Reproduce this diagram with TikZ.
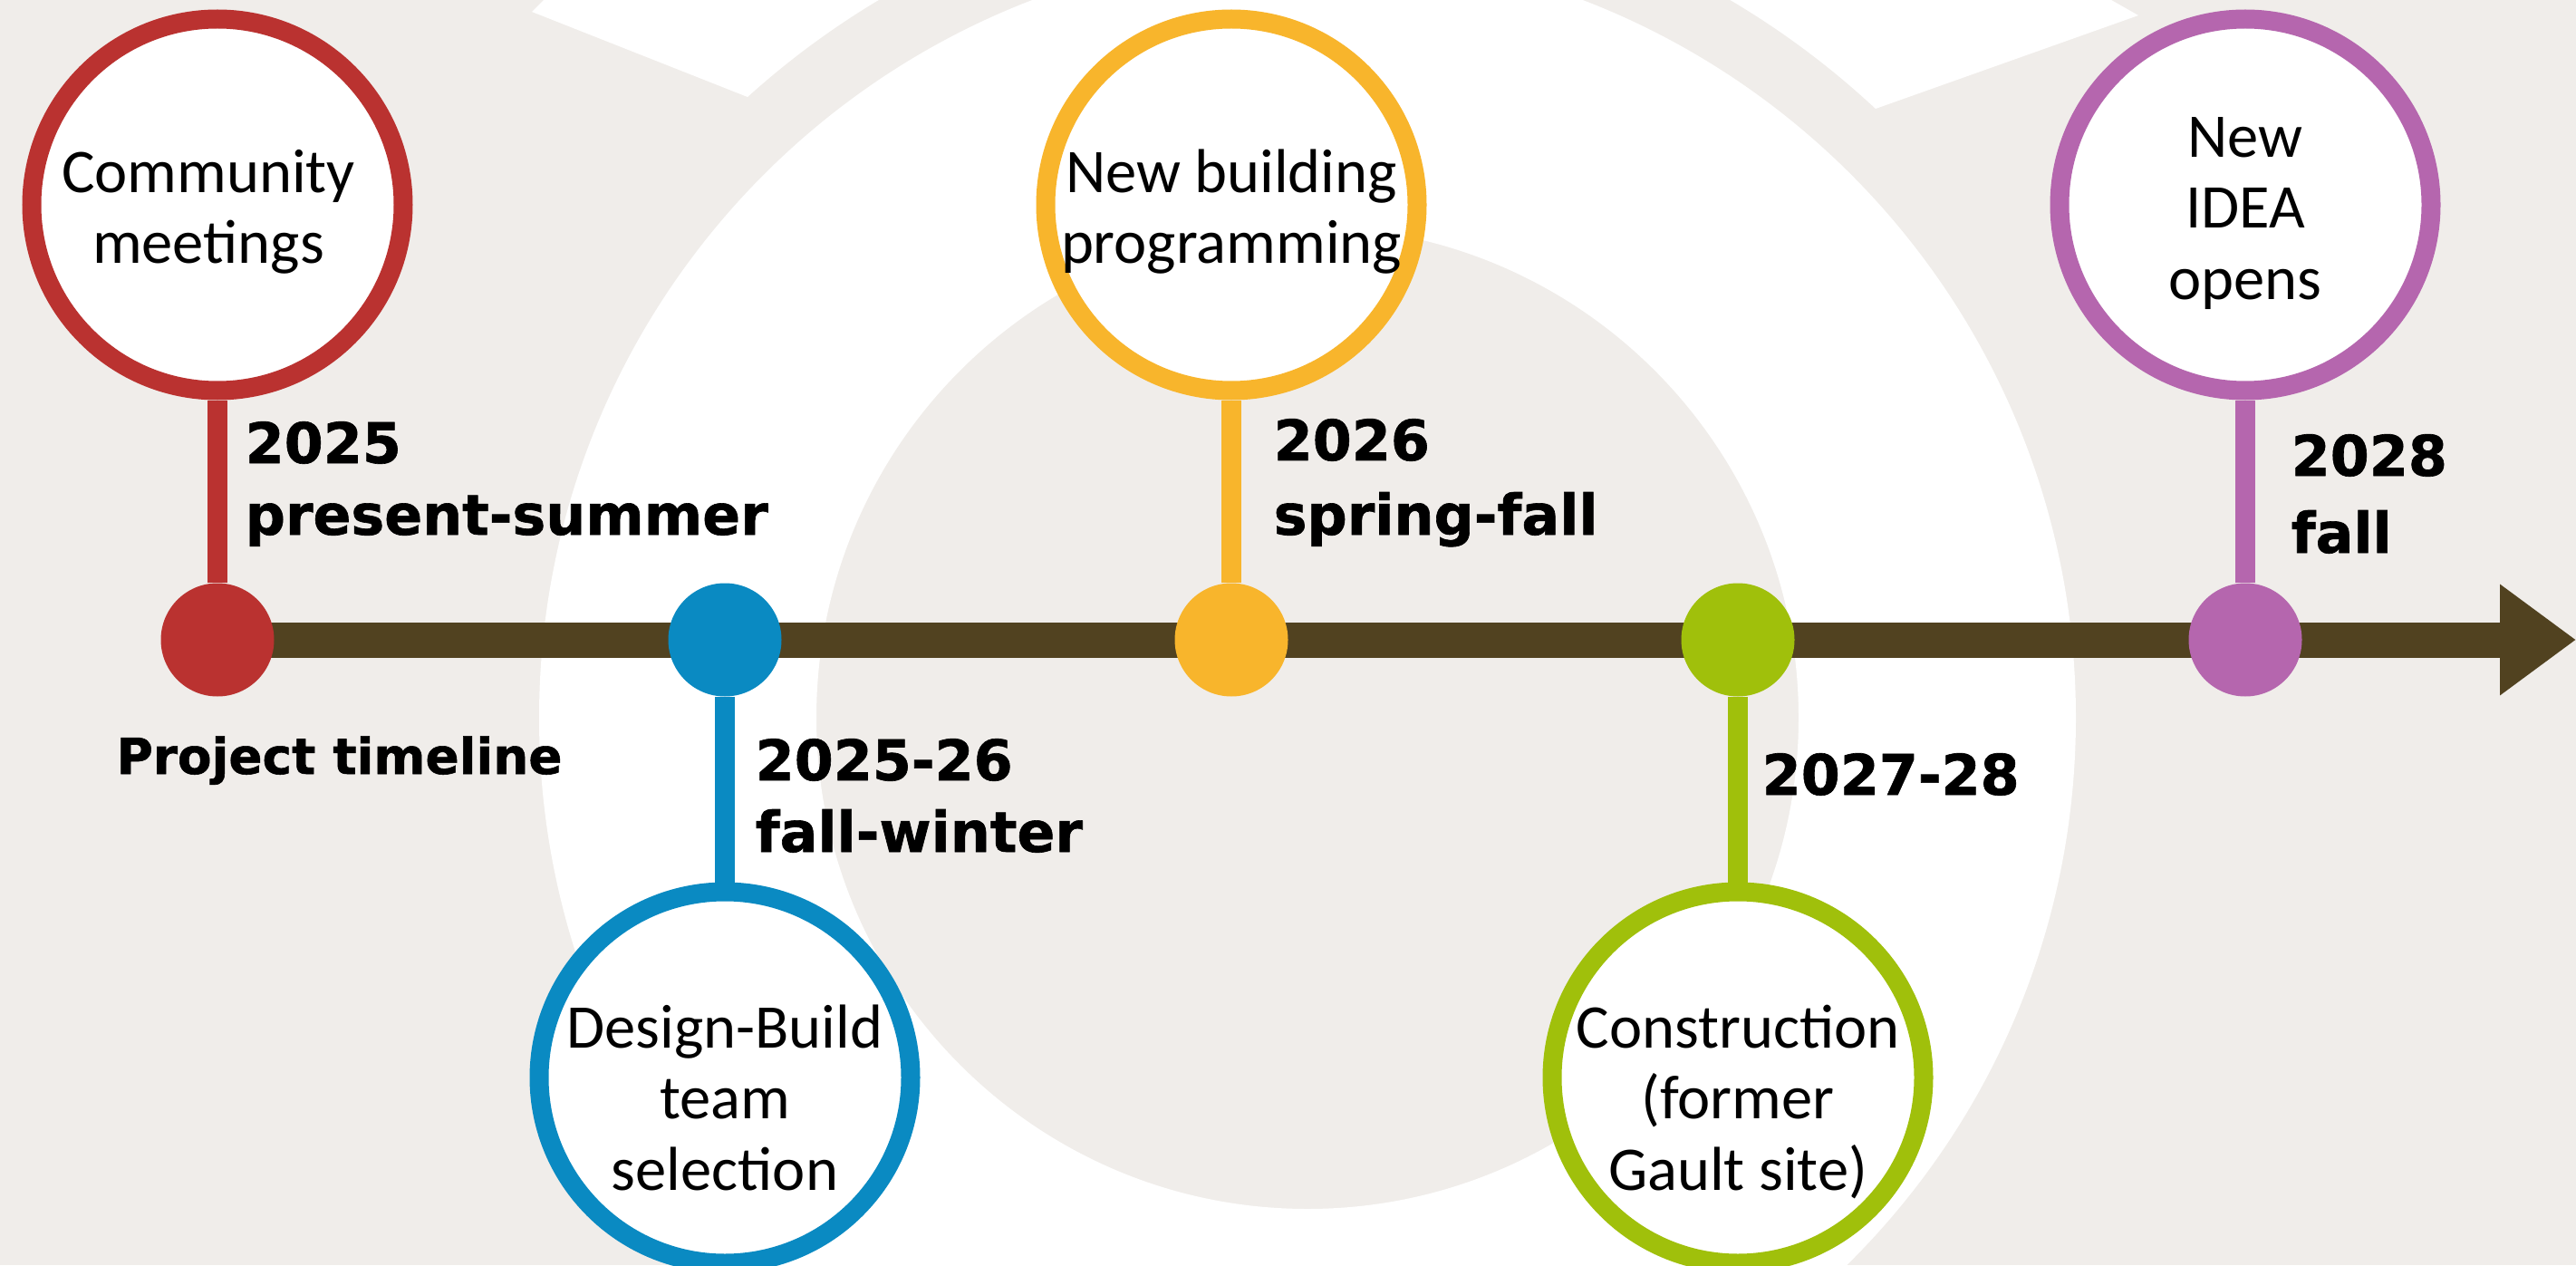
\documentclass[tikz,border=0pt]{standalone}
\usepackage{fontspec}
\usepackage{tikz}
\usetikzlibrary{arrows.meta,backgrounds}
\newfontfamily\ringfont{Carlito}
\newfontfamily\yearfont{DejaVu Sans}[BoldFeatures={FakeBold=1}]
\definecolor{paper}{RGB}{240,237,234}
\definecolor{tlred}{RGB}{186,50,48}
\definecolor{tlblue}{RGB}{10,138,194}
\definecolor{tlyellow}{RGB}{248,181,44}
\definecolor{tlgreen}{RGB}{160,192,11}
\definecolor{tlpurple}{RGB}{181,102,174}
\definecolor{tlbrown}{RGB}{81,66,32}
\newcommand{\ringlines}[2][1mm]{\raisebox{-#1}[\height][\depth]{\makebox[0pt]{\begin{tabular}{@{}c@{}}#2\end{tabular}}}}

\begin{document}
\begin{tikzpicture}[
	tldot/.style={circle,fill=#1,minimum size=12.5mm,inner sep=0pt},
	tlring/.style={circle,draw=#1,line width=2.1mm,fill=white,minimum size=41mm,inner sep=0pt,
		font=\ringfont\fontsize{19.5}{22.3}\selectfont},
	tlstem/.style={draw=#1,line width=2.2mm},
	tlyear/.style={anchor=base west,inner sep=0pt,font=\yearfont\bfseries\fontsize{17.6}{20}\selectfont},
	tlbar/.style={draw=tlbrown,line width=3.9mm,-{Triangle[length=8.4mm,width=11.7mm]}}]
			\useasboundingbox (0,0) rectangle (28.43,13.96);
			% paper and the white ring behind
			\begin{scope}[on background layer]
				\fill[paper] (0,0) rectangle (28.43,13.96);
				\clip (0,0) rectangle (28.43,13.96);
				\fill[white,even odd rule] (14.43,6.04) circle[radius=8.48] (14.43,6.04) circle[radius=5.42];
				\fill[white] (6.54,14.5) -- (5.87,13.83) -- (8.25,12.89) arc[start angle=132.06,end angle=118,radius=9.22] -- cycle;
				\fill[white] (22.35,14.5) -- (23.60,13.79) -- (20.70,12.76) arc[start angle=46.99,end angle=62,radius=9.22] -- cycle;
			\end{scope}
			% dots on the line
			\node[tldot=tlred] (d1) at (2.40,6.90) {};
			\node[tldot=tlblue] (d2) at (8.00,6.90) {};
			\node[tldot=tlyellow] (d3) at (13.59,6.90) {};
			\node[tldot=tlgreen] (d4) at (19.18,6.90) {};
			\node[tldot=tlpurple] (d5) at (24.78,6.90) {};
			% rings
			\node[tlring=tlred] (c1) at (2.40,11.70) {\hspace*{-2mm}\ringlines{Community\\meetings}};
			\node[tlring=tlblue] (c2) at (8.00,2.07) {\ringlines[3mm]{Design-Build\\team\\selection}};
			\node[tlring=tlyellow] (c3) at (13.59,11.70) {\ringlines{New building\\programming}};
			\node[tlring=tlgreen] (c4) at (19.18,2.07) {\ringlines[3mm]{Construction\\(former\\Gault site)}};
			\node[tlring=tlpurple] (c5) at (24.78,11.70) {\ringlines{New\\IDEA\\opens}};
			\draw[tlstem=tlred] (d1) -- (c1);
			\draw[tlstem=tlblue] (d2) -- (c2);
			\draw[tlstem=tlyellow] (d3) -- (c3);
			\draw[tlstem=tlgreen] (d4) -- (c4);
			\draw[tlstem=tlpurple] (d5) -- (c5);
			\coordinate (tip) at (28.43,6.90);
			\begin{scope}[on background layer]
				\draw[tlbar] (d1.center) -- (tip);
			\end{scope}
			% dates
			\node[tlyear] (y1) at (2.70,8.85) {2025};
			\node[tlyear] (s1) at (2.70,8.06) {present-summer};
			\node[tlyear] (y2) at (8.33,5.35) {2025-26};
			\node[tlyear] (s2) at (8.33,4.56) {fall-winter};
			\node[tlyear] (y3) at (14.05,8.88) {2026};
			\node[tlyear] (s3) at (14.05,8.06) {spring-fall};
			\node[tlyear] (y4) at (19.44,5.19) {2027-28};
			\node[tlyear] (y5) at (25.28,8.71) {2028};
			\node[tlyear] (s5) at (25.28,7.86) {fall};
			\node[tlyear,font=\yearfont\bfseries\fontsize{15.6}{18}\selectfont] (title) at (1.28,5.42) {Project timeline};
		\end{tikzpicture}
\end{document}
